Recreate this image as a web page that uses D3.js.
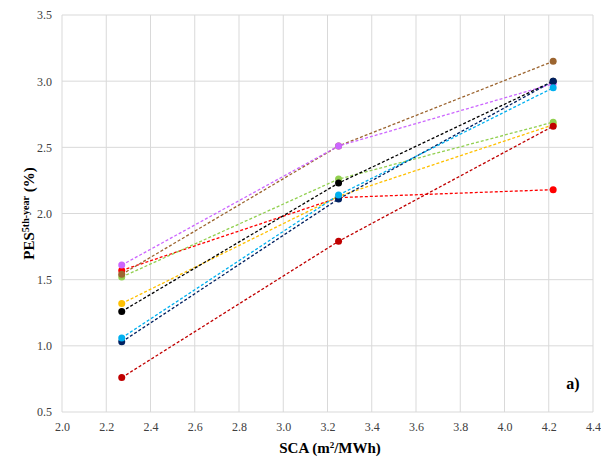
<!DOCTYPE html>
<html>
<head>
<meta charset="utf-8">
<script src="https://cdnjs.cloudflare.com/ajax/libs/d3/7.8.5/d3.min.js"></script>
<style>
  body { margin: 0; background: #fff; }
</style>
</head>
<body>
<div id="chart"></div>
<script>
// x values (SCA)
var sca = [2.27, 3.25, 4.22];

// one array per scenario, PES 5th year (%)
var purple   = [1.61, 2.51, 2.98];
var brown    = [1.54, 2.51, 3.15];
var green    = [1.52, 2.26, 2.69];
var red      = [1.57, 2.12, 2.18];
var orange   = [1.32, 2.13, 2.67];
var black    = [1.26, 2.23, 3.00];
var skyblue  = [1.06, 2.14, 2.95];
var navy     = [1.03, 2.11, 3.00];
var darkred  = [0.76, 1.79, 2.66];

var xTicks = [2.0, 2.2, 2.4, 2.6, 2.8, 3.0, 3.2, 3.4, 3.6, 3.8, 4.0, 4.2, 4.4];
var yTicks = [0.5, 1.0, 1.5, 2.0, 2.5, 3.0, 3.5];

// drawing order, bottom to top
var series = [
  {vals: red,     col: "#ff0000"},
  {vals: orange,  col: "#ffc000"},
  {vals: green,   col: "#92d050"},
  {vals: brown,   col: "#9c6530"},
  {vals: purple,  col: "#cc66ff"},
  {vals: darkred, col: "#c00000"},
  {vals: black,   col: "#000000"},
  {vals: navy,    col: "#002060"},
  {vals: skyblue, col: "#00b0f0"}
];

var serif = "'Liberation Serif', 'Times New Roman', Times, serif";
var width = 601, height = 461;
var pLeft = 62, pRight = 593, pTop = 15, pBottom = 412;

var svg = d3.select("#chart").append("svg")
    .attr("width", width)
    .attr("height", height);

var x = d3.scaleLinear().domain([2.0, 4.4]).range([pLeft, pRight]);
var y = d3.scaleLinear().domain([0.5, 3.5]).range([pBottom, pTop]);

// grid
svg.append("g").selectAll("line").data(xTicks).enter().append("line")
    .attr("x1", d => x(d)).attr("x2", d => x(d))
    .attr("y1", pTop).attr("y2", pBottom)
    .attr("stroke", "#d9d9d9").attr("stroke-width", 1);
svg.append("g").selectAll("line").data(yTicks).enter().append("line")
    .attr("y1", d => y(d)).attr("y2", d => y(d))
    .attr("x1", pLeft).attr("x2", pRight)
    .attr("stroke", "#d9d9d9").attr("stroke-width", 1);

// axes (labels only)
var xAxis = svg.append("g").attr("transform", "translate(0," + pBottom + ")")
    .call(d3.axisBottom(x).tickValues(xTicks).tickFormat(d3.format(".1f")).tickSize(0).tickPadding(10));
var yAxis = svg.append("g").attr("transform", "translate(" + pLeft + ",0)")
    .call(d3.axisLeft(y).tickValues(yTicks).tickFormat(d3.format(".1f")).tickSize(0).tickPadding(10));
[xAxis, yAxis].forEach(function(a){
  a.attr("font-family", serif).attr("font-size", 12);
  a.select(".domain").remove();
  a.selectAll("text").attr("fill", "#404040");
});

// lines
var line = d3.line().x((d, i) => x(sca[i])).y(d => y(d));
svg.append("g").selectAll("path").data(series).enter().append("path")
    .attr("d", d => line(d.vals))
    .attr("fill", "none")
    .attr("stroke", d => d.col)
    .attr("stroke-width", 1.3)
    .attr("stroke-dasharray", "3,2");

// points
series.forEach(function(s){
  svg.append("g").selectAll("circle").data(s.vals).enter().append("circle")
      .attr("cx", (d, i) => x(sca[i]))
      .attr("cy", d => y(d))
      .attr("r", 3.5)
      .attr("fill", s.col);
});

// titles
svg.append("text")
    .attr("x", 330).attr("y", 453)
    .attr("text-anchor", "middle")
    .attr("font-family", serif).attr("font-size", 15).attr("font-weight", "bold")
    .html('SCA (m<tspan baseline-shift="super" font-size="9">2</tspan>/MWh)');

svg.append("text")
    .attr("transform", "translate(34," + ((pTop + pBottom) / 2) + ") rotate(-90)")
    .attr("text-anchor", "middle")
    .attr("font-family", serif).attr("font-size", 15).attr("font-weight", "bold")
    .html('PES<tspan baseline-shift="super" font-size="10">5th-year</tspan> (%)');

svg.append("text")
    .attr("x", 573).attr("y", 389)
    .attr("text-anchor", "middle")
    .attr("font-family", serif).attr("font-size", 16).attr("font-weight", "bold")
    .text("a)");
</script>
</body>
</html>
